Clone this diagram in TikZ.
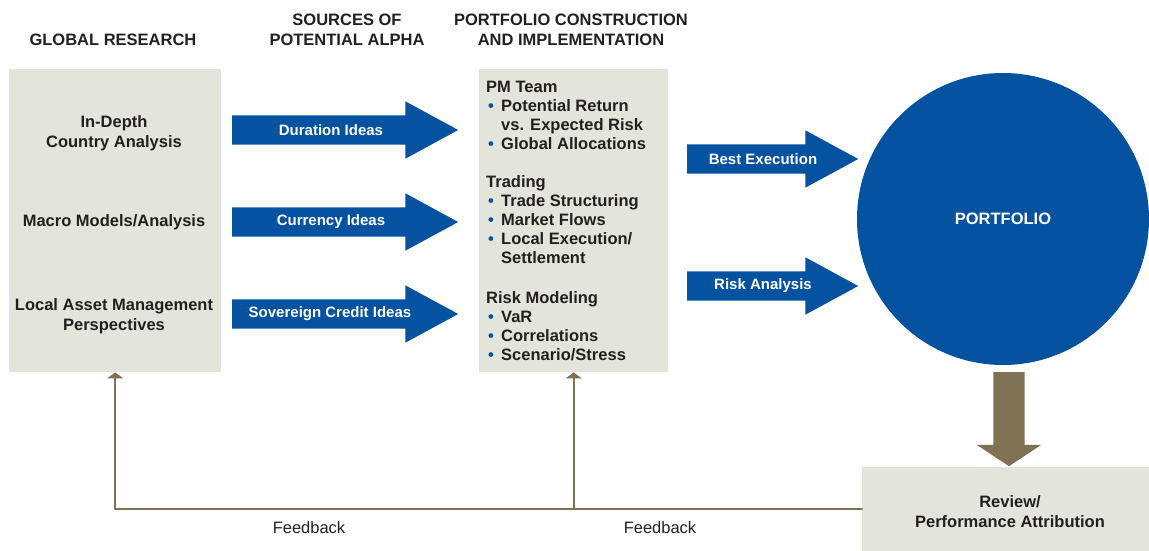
\documentclass[tikz,border=0pt]{standalone}
\usepackage{fontspec}
\setmainfont{Liberation Sans}
\usetikzlibrary{arrows.meta,shapes.arrows,positioning}
\definecolor{pimblue}{RGB}{5,82,160}
\definecolor{pimbrown}{RGB}{127,113,84}
\definecolor{pimgray}{RGB}{228,229,218}
\definecolor{pimtext}{RGB}{35,31,32}
\newcommand{\bul}{\hspace*{2pt}\makebox[13pt][l]{\textcolor{pimblue}{\textbullet}}}
\newcommand{\ind}{\hspace*{15pt}}

\begin{document}
\begin{tikzpicture}[x=1pt,y=-1pt,line cap=round,line join=round,
  panel/.style={fill=pimgray,draw=none,inner sep=0pt},
  boldtext/.style={text=pimtext,font=\bfseries\fontsize{16.5}{20}\selectfont,align=center},
  headtext/.style={text=pimtext,font=\bfseries\fontsize{16.5}{20}\selectfont,align=center},
  arrowtext/.style={text=white,font=\bfseries\fontsize{15}{18}\selectfont},
  ideaarrow/.style={single arrow,fill=pimblue,draw=none,inner sep=0pt,anchor=tail,
    text height=14.5pt,text depth=14.5pt,single arrow head extend=14pt,
    single arrow tip angle=57},
  fbline/.style={draw=pimbrown,line width=2pt,-{Triangle[width=16pt,length=6pt]}}]
\useasboundingbox (0,0) rectangle (1149,551);

% column headers
\node[headtext] (hresearch) at (113,40) {GLOBAL RESEARCH};
\node[headtext] (halpha) at (347,30) {SOURCES OF\\POTENTIAL ALPHA};
\node[headtext] (hconstr) at (571,30) {PORTFOLIO CONSTRUCTION\\AND IMPLEMENTATION};

% global research
\node[panel,anchor=north west,minimum width=212pt,minimum height=303pt] (research) at (9,69) {};
\node[boldtext] (country) at (114,133.5) {In-Depth\\Country Analysis};
\node[boldtext] (macro) at (114,222) {Macro Models/Analysis};
\node[boldtext] (local) at (114,316.5) {Local Asset Management\\Perspectives};

% sources of alpha
\node[ideaarrow,minimum height=226pt] (duration) at (232,130) {};
\node[arrowtext] at (331,130) {Duration Ideas};
\node[ideaarrow,minimum height=226pt] (currency) at (232,222) {};
\node[arrowtext] at (331,222) {Currency Ideas};
\node[ideaarrow,minimum height=226pt] (credit) at (232,314) {};
\node[arrowtext] at (330,314) {Sovereign Credit Ideas};

% construction and implementation
\node[panel,anchor=north west,minimum width=189pt,minimum height=303pt] (team) at (479,69) {};
\node[text=pimtext,font=\bfseries\fontsize{16.5}{19}\selectfont,align=left,inner sep=0pt,anchor=north west] (teamtext) at (486,81)
  {PM Team\\
   \bul Potential Return\\
   \ind vs. Expected Risk\\
   \bul Global Allocations\\[19pt]
   Trading\\
   \bul Trade Structuring\\
   \bul Market Flows\\
   \bul Local Execution/\\
   \ind Settlement\\[21pt]
   Risk Modeling\\
   \bul VaR\\
   \bul Correlations\\
   \bul Scenario/Stress};

% to the portfolio
\node[ideaarrow,minimum height=171pt] (execution) at (687,159) {};
\node[arrowtext] at (763,159) {Best Execution};
\node[ideaarrow,minimum height=171pt] (risk) at (687,286) {};
\node[arrowtext] at (763,286) {Risk Analysis};

\node[circle,fill=pimblue,minimum size=292pt,inner sep=0pt,text=white,font=\bfseries\fontsize{16.5}{20}\selectfont] (portfolio) at (1003,219) {\raisebox{-1.5pt}{PORTFOLIO}};

% review
\node[single arrow,fill=pimbrown,draw=none,inner sep=0pt,text width=31pt,text height=0pt,text depth=0pt,
  single arrow head extend=16.5pt,single arrow tip angle=113,shape border rotate=270,
  minimum height=94pt,anchor=tail] (down) at (1009,372) {};
\node[panel,anchor=north west,minimum width=287pt,minimum height=84pt] (review) at (862,467) {};
\node[boldtext] (reviewtext) at (1010,511.5) {Review/\\Performance Attribution};

% feedback
\coordinate (fbleft) at (research.south |- review.west);
\coordinate (fbmid) at (team.south |- review.west);
\draw[fbline] (review.west) -- (fbleft) -- (research.south);
\draw[fbline] (fbmid) -- (team.south);
\node[text=pimtext,font=\fontsize{16.5}{20}\selectfont] (fbtext1) at (309,528) {Feedback};
\node[text=pimtext,font=\fontsize{16.5}{20}\selectfont] (fbtext2) at (660,528) {Feedback};
\end{tikzpicture}
\end{document}
